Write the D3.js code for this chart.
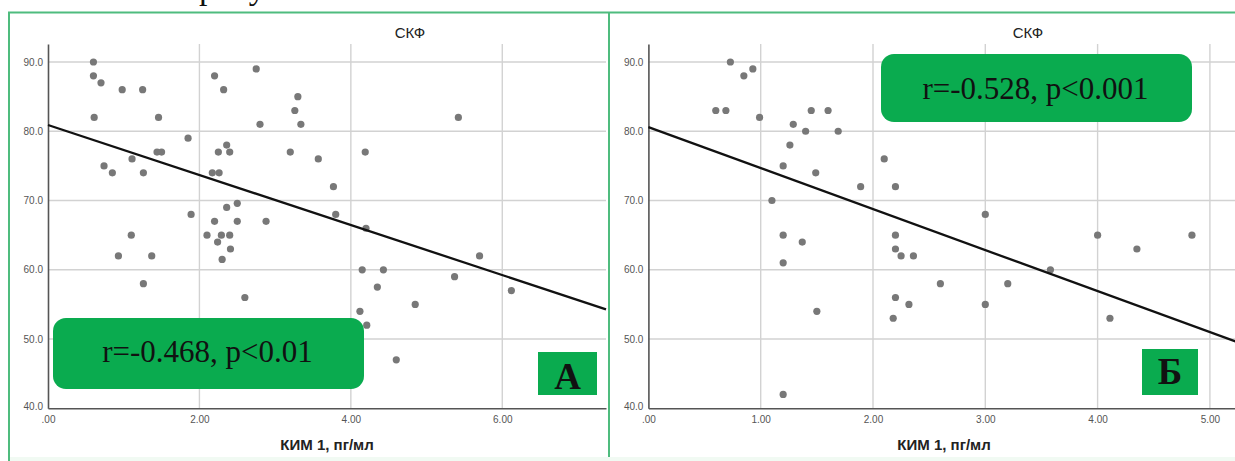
<!DOCTYPE html>
<html>
<head>
<meta charset="utf-8">
<script src="https://cdn.jsdelivr.net/npm/d3@7"></script>
<style>
  html, body { margin: 0; padding: 0; background: #fff; }
  svg { display: block; }
</style>
</head>
<body>
<svg id="chart" width="1235" height="461"></svg>
<script>
// Panel A: КИМ-1 vs СКФ
const kimA = [0.60, 0.60, 0.70, 0.98, 1.25, 0.61, 1.46, 1.85, 1.44, 1.50, 1.11, 0.74, 0.85, 1.26,
  2.20, 2.32, 2.75, 2.80, 3.30, 3.26, 3.34, 3.20, 3.57, 2.36, 2.25, 2.40, 2.17, 2.26,
  1.89, 2.36, 2.50, 2.20, 2.50, 2.88, 1.10, 2.10, 2.29, 2.40, 2.24, 2.41,
  5.42, 4.19, 3.77, 3.80, 4.20, 0.93, 1.37, 1.26, 2.30, 2.60,
  4.15, 4.43, 5.70, 5.37, 4.35, 6.12, 4.85, 4.12, 4.21, 4.60];
const gfrA = [90, 88, 87, 86, 86, 82, 82, 79, 77, 77, 76, 75, 74, 74,
  88, 86, 89, 81, 85, 83, 81, 77, 76, 78, 77, 77, 74, 74,
  68, 69, 69.6, 67, 67, 67, 65, 65, 65, 65, 64, 63,
  82, 77, 72, 68, 66, 62, 62, 58, 61.5, 56,
  60, 60, 62, 59, 57.5, 57, 55, 54, 52, 47];

// Panel Б: КИМ-1 vs СКФ
const kimB = [0.73, 0.85, 0.93, 0.60, 0.69, 0.99, 1.29, 1.40, 1.45, 1.60, 1.69, 1.26, 1.20, 1.49,
  1.10, 1.89, 2.10, 2.20, 1.20, 1.37, 2.20, 2.20, 3.00, 4.00, 4.84, 4.35,
  1.20, 1.50, 1.20, 2.25, 2.36, 2.20, 2.32, 2.18, 2.60, 3.20, 3.00, 3.58, 4.11];
const gfrB = [90, 88, 89, 83, 83, 82, 81, 80, 83, 83, 80, 78, 75, 74,
  70, 72, 76, 72, 65, 64, 65, 63, 68, 65, 65, 63,
  61, 54, 42, 62, 62, 56, 55, 53, 58, 58, 55, 60, 53];

// Fitted lines: [intercept, slope]
const fitA = [80.9, -3.61];
const fitB = [80.6, -5.92];

const yTicks = [40, 50, 60, 70, 80, 90];
const yTickLabels = ["40.0", "50.0", "60.0", "70.0", "80.0", "90.0"];
const xTicksA = [0, 2, 4, 6];
const xTickLabelsA = [".00", "2.00", "4.00", "6.00"];
const xTicksB = [0, 1, 2, 3, 4, 5];
const xTickLabelsB = [".00", "1.00", "2.00", "3.00", "4.00", "5.00"];

const statsA = "r=-0.468, p<0.01";
const statsB = "r=-0.528, p<0.001";
const letters = ["А", "Б"];
const chartTitle = "СКФ";
const xTitle = "КИМ 1, пг/мл";

const GREEN = "#0aab4f";
const FRAME = "#4fbc7e";

const svg = d3.select("#chart");

// Last line of the caption text running above the figure
svg.append("text")
  .attr("x", 199).attr("y", -1)
  .attr("font-family", "'Liberation Serif', 'Times New Roman', serif")
  .attr("font-size", 34)
  .attr("fill", "#111")
  .text("рисунке 3.");

function drawPanel(p) {
  const g = svg.append("g");
  const x = d3.scaleLinear().domain(p.xDomain).range([p.left, p.right]);
  const y = d3.scaleLinear().domain([40, 92.6]).range([408.3, 44]);

  // grid
  g.append("g").selectAll("line.h").data(yTicks.filter(d => d > 40)).join("line")
    .attr("x1", p.left).attr("x2", p.right)
    .attr("y1", d => y(d)).attr("y2", d => y(d))
    .attr("stroke", "#d2d2d2").attr("stroke-width", 1.4);
  g.append("g").selectAll("line.v").data(p.xTicks.filter(d => d > 0)).join("line")
    .attr("x1", d => x(d)).attr("x2", d => x(d))
    .attr("y1", y(92.6)).attr("y2", y(40))
    .attr("stroke", "#d2d2d2").attr("stroke-width", 1.4);

  // axes
  const yAxis = d3.axisLeft(y).tickValues(yTicks).tickSize(0).tickPadding(5)
    .tickFormat((d, i) => yTickLabels[i]);
  const xAxis = d3.axisBottom(x).tickValues(p.xTicks).tickSize(0).tickPadding(8)
    .tickFormat((d, i) => p.xLabels[i]);

  const ya = g.append("g").attr("transform", `translate(${p.left},0)`).call(yAxis);
  const xa = g.append("g").attr("transform", `translate(0,${y(40)})`).call(xAxis);
  [ya, xa].forEach(a => {
    a.select(".domain").attr("stroke", "#555").attr("stroke-width", 1.6);
    a.selectAll("text")
      .attr("font-family", "'Liberation Sans', Arial, sans-serif")
      .attr("font-size", 10).attr("fill", "#555");
  });
  ya.selectAll(".tick").filter(d => d === 40).select("text").attr("dy", "0.12em");

  // points
  g.append("g").selectAll("circle").data(p.xs.map((v, i) => [v, p.ys[i]])).join("circle")
    .attr("cx", d => x(d[0])).attr("cy", d => y(d[1])).attr("r", 3.6)
    .attr("fill", "#787878");

  // fit line
  const [b0, b1] = p.fit;
  g.append("line")
    .attr("x1", x(p.xDomain[0])).attr("y1", y(b0 + b1 * p.xDomain[0]))
    .attr("x2", x(p.xDomain[1])).attr("y2", y(b0 + b1 * p.xDomain[1]))
    .attr("stroke", "#111").attr("stroke-width", 2.3);

  // titles
  g.append("text").attr("x", p.titleX).attr("y", 38)
    .attr("text-anchor", "middle")
    .attr("font-family", "'Liberation Sans', Arial, sans-serif")
    .attr("font-size", 15).attr("fill", "#222").text(chartTitle);
  g.append("text").attr("x", p.xTitleX).attr("y", 450)
    .attr("text-anchor", "middle")
    .attr("font-family", "'Liberation Sans', Arial, sans-serif")
    .attr("font-size", 15).attr("font-weight", "bold").attr("fill", "#222")
    .text(xTitle);

  // stats badge
  const s = p.stats;
  g.append("rect").attr("x", s.x).attr("y", s.y).attr("width", s.w).attr("height", s.h)
    .attr("rx", 13).attr("fill", GREEN);
  g.append("text").attr("x", s.x + s.w / 2 - 1).attr("y", s.base)
    .attr("text-anchor", "middle")
    .attr("font-family", "'Liberation Serif', 'Times New Roman', serif")
    .attr("font-size", 31).attr("fill", "#111").text(s.text);

  // panel letter
  const l = p.letter;
  g.append("rect").attr("x", l.x).attr("y", l.y).attr("width", l.w).attr("height", l.h)
    .attr("fill", GREEN);
  g.append("text").attr("x", l.x + l.w / 2).attr("y", l.base)
    .attr("text-anchor", "middle")
    .attr("font-family", "'Liberation Serif', 'Times New Roman', serif")
    .attr("font-size", 37).attr("font-weight", "bold").attr("fill", "#111").text(l.text);
}

drawPanel({
  xs: kimA, ys: gfrA, fit: fitA,
  xDomain: [0, 7.37], left: 48, right: 606,
  xTicks: xTicksA, xLabels: xTickLabelsA,
  titleX: 410, xTitleX: 327,
  stats: { x: 53, y: 318, w: 311, h: 71, base: 362, text: statsA },
  letter: { x: 538, y: 352, w: 59, h: 43, base: 389, text: letters[0] }
});

drawPanel({
  xs: kimB, ys: gfrB, fit: fitB,
  xDomain: [0, 5.25], left: 648.4, right: 648.4 + 5.25 * 112.3,
  xTicks: xTicksB, xLabels: xTickLabelsB,
  titleX: 1028, xTitleX: 944,
  stats: { x: 881, y: 54, w: 311, h: 68, base: 99, text: statsB },
  letter: { x: 1142, y: 349, w: 56, h: 46, base: 384, text: letters[1] }
});

// panel frames
const frame = svg.append("g").attr("fill", "none").attr("stroke", FRAME).attr("stroke-width", 2);
frame.append("path").attr("d", "M9,470 V12.5 H1240");
frame.append("line").attr("x1", 609).attr("x2", 609).attr("y1", 12.5).attr("y2", 470);
svg.append("rect").attr("x", 10).attr("y", 457).attr("width", 1225).attr("height", 4)
  .attr("fill", "#f1faf3");
</script>
</body>
</html>
